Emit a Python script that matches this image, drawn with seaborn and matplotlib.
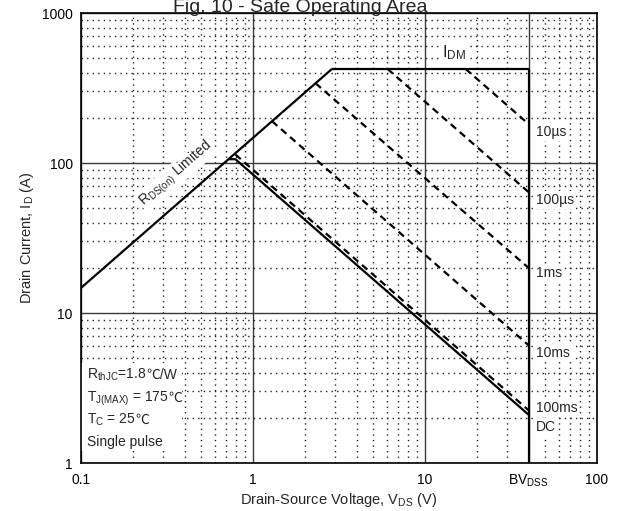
import matplotlib
matplotlib.use("Agg")
import matplotlib.pyplot as plt
from matplotlib.patches import Rectangle
from matplotlib.transforms import IdentityTransform
from matplotlib.ticker import FixedLocator, FixedFormatter, LogLocator, NullFormatter
import pandas as pd
import seaborn as sns

# Safe-operating-area boundary: R_DS(on) limit, pulsed current limit, breakdown voltage
rds_v = [0.1, 2.88]
rds_i = [14.7, 424]
idm_v = [2.88, 40]
idm_i = [424, 424]
bv_v = [40, 40]
bv_i = [424, 1]

# Constant-power limits for each pulse width
dc_v = [0.72, 0.79, 40]
dc_i = [106, 106, 2.1]
p100ms_v = [0.79, 40]
p100ms_i = [114, 2.25]
p10ms_v = [1.29, 40]
p10ms_i = [190, 6.1]
p1ms_v = [2.31, 40]
p1ms_i = [340, 20]
p100us_v = [6.05, 40]
p100us_i = [424, 64]
p10us_v = [17.2, 40]
p10us_i = [424, 182]

pulse_labels = ["10µs", "100µs", "1ms", "10ms", "100ms", "DC"]
pulse_label_i = [161, 56.6, 18.5, 5.4, 2.33, 1.74]
pulse_label_v = 44

x_ticks = [0.1, 1, 10, 40, 100]
x_tick_labels = ["0.1", "1", "10", r"BV$_{\mathrm{DSS}}$", "100"]
y_ticks = [1, 10, 100, 1000]
y_tick_labels = ["1", "10", "100", "1000"]

# test conditions: each line is a list of text pieces set one after another
conditions = [
    [r"R$_{\mathrm{thJC}}$=1.8", "℃/W"],
    [r"T$_{\mathrm{J(MAX)}}$ = 175", "℃"],
    [r"T$_{\mathrm{C}}$ = 25", "℃"],
    ["Single pulse"],
]
condition_baselines = [0.1867, 0.1356, 0.0867, 0.0378]

sns.set_theme(style="white")
FAMILY = ["Liberation Sans", "Noto Sans CJK SC", "DejaVu Sans"]
plt.rcParams["font.family"] = FAMILY
plt.rcParams["mathtext.fontset"] = "custom"
plt.rcParams["mathtext.rm"] = "Liberation Sans"
plt.rcParams["mathtext.it"] = "Liberation Sans:italic"
plt.rcParams["mathtext.bf"] = "Liberation Sans:bold"
plt.rcParams["mathtext.default"] = "regular"

fig = plt.figure(figsize=(6.18, 5.11), dpi=100)
ax = fig.add_axes([81 / 618, 1 - 463 / 511, 516 / 618, 450 / 511])
ax.set_xscale("log")
ax.set_yscale("log")
ax.set_xlim(0.1, 100)
ax.set_ylim(1, 1000)

LW = 1.6
solid_curves = [(rds_v, rds_i), (idm_v, idm_i), (bv_v, bv_i), (dc_v, dc_i)]
dashed_curves = [(p100ms_v, p100ms_i), (p10ms_v, p10ms_i), (p1ms_v, p1ms_i),
                 (p100us_v, p100us_i), (p10us_v, p10us_i)]

for v, i in solid_curves:
    df = pd.DataFrame({"v": v, "i": i})
    sns.lineplot(data=df, x="v", y="i", ax=ax, color="black", lw=LW,
                 sort=False, estimator=None, legend=False, zorder=5,
                 solid_capstyle="butt")
for v, i in dashed_curves:
    df = pd.DataFrame({"v": v, "i": i})
    sns.lineplot(data=df, x="v", y="i", ax=ax, color="black", lw=LW,
                 sort=False, estimator=None, legend=False, zorder=5,
                 linestyle=(0, (3.2, 2.2)))

# grid: solid decades, dotted minor
ax.xaxis.set_major_locator(FixedLocator(x_ticks))
ax.xaxis.set_major_formatter(FixedFormatter(x_tick_labels))
ax.yaxis.set_major_locator(FixedLocator(y_ticks))
ax.yaxis.set_major_formatter(FixedFormatter(y_tick_labels))
ax.xaxis.set_minor_locator(LogLocator(base=10, subs=range(2, 10)))
ax.yaxis.set_minor_locator(LogLocator(base=10, subs=range(2, 10)))
ax.xaxis.set_minor_formatter(NullFormatter())
ax.yaxis.set_minor_formatter(NullFormatter())
ax.grid(which="major", color="#3a3a3a", lw=1.0, ls="-")
ax.grid(which="minor", color="#222222", lw=1.0, ls=(0, (1, 3)))
ax.set_axisbelow(True)

ax.tick_params(which="both", direction="in", colors="black", labelsize=10)
ax.tick_params(which="major", length=0, pad=6)
ax.tick_params(which="minor", length=3, width=0.8)
ax.tick_params(axis="x", which="major", pad=7)
for s in ax.spines.values():
    s.set_color("black")
    s.set_linewidth(1.2)

ax.set_xlabel(r"Drain-Source Voltage, V$_{\mathrm{DS}}$ (V)", fontsize=10.5, labelpad=1)
ax.set_ylabel(r"Drain Current, I$_{\mathrm{D}}$ (A)", fontsize=10.5, labelpad=4)

fig.text(300 / 618, 1 - 12 / 511, "Fig. 10 - Safe Operating Area",
         ha="center", va="baseline", fontsize=14)

# curve labels, each on a small blank patch
label_box = dict(fc="white", ec="none", pad=1.5)
for lab, iy in zip(pulse_labels, pulse_label_i):
    ax.text(pulse_label_v, iy, lab, ha="left", va="center", fontsize=10,
            zorder=4, bbox=label_box)

ax.text(12.6, 509, r"I$_{\mathrm{DM}}$", ha="left", va="baseline", fontsize=12,
        zorder=4, bbox=label_box)
ax.text(0.356, 84.5, r"R$_{\mathrm{DS(on)}}$ Limited", rotation=41,
        rotation_mode="anchor", ha="center", va="center", fontsize=10, zorder=6,
        bbox=dict(fc="white", ec="none", pad=1.0))

# test-condition block with a blank background
ax.add_patch(Rectangle((0.0, 0.027), 0.196, 0.195, transform=ax.transAxes,
                       fc="white", ec="none", zorder=2))
renderer = fig.canvas.get_renderer()
for pieces, yb in zip(conditions, condition_baselines):
    x_disp, y_disp = ax.transAxes.transform((0.0116, yb))
    for txt in pieces:
        t = fig.text(x_disp, y_disp, txt, transform=IdentityTransform(),
                     ha="left", va="baseline", fontsize=10, zorder=6,
                     family=FAMILY)
        x_disp = t.get_window_extent(renderer).x1

fig.savefig("out.png", dpi=100)
